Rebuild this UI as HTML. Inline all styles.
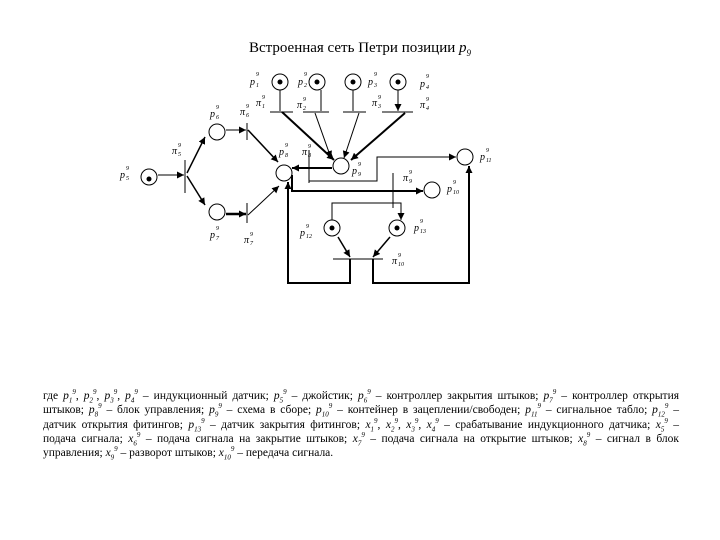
<!DOCTYPE html>
<html><head><meta charset="utf-8"><style>
body{margin:0;background:#fff;width:720px;height:540px;overflow:hidden;position:relative;font-family:"Liberation Serif",serif}
#t{position:absolute;left:0;width:720px;top:40px;text-align:center;font-size:15px}
#d{position:absolute;left:43px;top:389px;width:636px;font-size:11.5px;line-height:14.3px}
#d div{text-align:justify;text-align-last:justify;white-space:nowrap;height:14.3px}
#d div.l{text-align-last:left}
#d sub,#d sup{font-size:7px;line-height:0}
svg{position:absolute;left:0;top:0}
svg text{font-family:"Liberation Serif",serif;font-style:italic}
</style></head><body>
<div id="t">Встроенная сеть Петри позиции <i>p</i><sub style="font-size:9px"><i>9</i></sub></div>
<svg width="720" height="540">
<defs><marker id="a" viewBox="0 0 10 10" refX="10" refY="5" markerWidth="7" markerHeight="7" markerUnits="userSpaceOnUse" orient="auto"><path d="M0,0L10,5L0,10z" fill="#000"/></marker></defs>
<g fill="none" stroke="#000" stroke-width="1">
<circle cx="280" cy="82" r="8"/><circle cx="317" cy="82" r="8"/><circle cx="353" cy="82" r="8"/><circle cx="398" cy="82" r="8"/>
<circle cx="149" cy="177" r="8"/><circle cx="217" cy="132" r="8"/><circle cx="217" cy="212" r="8"/>
<circle cx="284" cy="173" r="8"/><circle cx="341" cy="166" r="8"/><circle cx="432" cy="190" r="8"/><circle cx="465" cy="157" r="8"/>
<circle cx="332" cy="228" r="8"/><circle cx="397" cy="228" r="8"/>
<path d="M270 112H293M303 112H329M343 112H366M382 112H413M185 160V193M247 123V140M247 203V223M309 150V183M393 173V208M333 259H383"/>
<path d="M280 90V111M321 90V111M353 90V111M398 90V111" marker-end="url(#a)"/>
<path d="M282 112L334 160" stroke-width="2" marker-end="url(#a)"/>
<path d="M315 113L331 158" marker-end="url(#a)"/>
<path d="M359 113L344 158" marker-end="url(#a)"/>
<path d="M405 113L351 160" stroke-width="2" marker-end="url(#a)"/>
<path d="M332 168H292" stroke-width="2" marker-end="url(#a)"/>
<path d="M309 181H377V157H456" marker-end="url(#a)"/>
<path d="M292 175V191H423" stroke-width="2" marker-end="url(#a)"/>
<path d="M332 220V203H401V220" />
<path d="M332 213V220M401 213V220" marker-end="url(#a)"/>
<path d="M338 237L350 257" stroke-width="1.5" marker-end="url(#a)"/>
<path d="M390 237L373 257" stroke-width="1.5" marker-end="url(#a)"/>
<path d="M350 259V283H288V182" stroke-width="2" marker-end="url(#a)"/>
<path d="M373 259V283H469V166" stroke-width="2" marker-end="url(#a)"/>
<path d="M158 175H184" marker-end="url(#a)"/>
<path d="M187 173L205 137" stroke-width="1.5" marker-end="url(#a)"/>
<path d="M187 176L205 205" stroke-width="1.5" marker-end="url(#a)"/>
<path d="M226 130H246" marker-end="url(#a)"/>
<path d="M226 214H246" stroke-width="2.5" marker-end="url(#a)"/>
<path d="M248 130L278 162" stroke-width="1.5" marker-end="url(#a)"/>
<path d="M248 215L279 186" marker-end="url(#a)"/>
</g>
<g fill="#000">
<circle cx="280" cy="82" r="2.5"/><circle cx="317" cy="82" r="2.5"/><circle cx="353" cy="82" r="2.5"/><circle cx="398" cy="82" r="2.5"/>
<circle cx="149" cy="179" r="2.5"/><circle cx="332" cy="228" r="2.5"/><circle cx="397" cy="228" r="2.5"/>
</g>
<g style="font-size:10px">
<text x="250" y="85">p</text><text x="256" y="76" style="font-size:6px">9</text><text x="256" y="87" style="font-size:6px">1</text>
<text x="298" y="85">p</text><text x="304" y="76" style="font-size:6px">9</text><text x="304" y="87" style="font-size:6px">2</text>
<text x="368" y="85">p</text><text x="374" y="76" style="font-size:6px">9</text><text x="374" y="87" style="font-size:6px">3</text>
<text x="420" y="87">p</text><text x="426" y="78" style="font-size:6px">9</text><text x="426" y="89" style="font-size:6px">4</text>
<text x="256" y="106">π</text><text x="262" y="99" style="font-size:6px">9</text><text x="262" y="108" style="font-size:6px">1</text>
<text x="297" y="108">π</text><text x="303" y="101" style="font-size:6px">9</text><text x="303" y="110" style="font-size:6px">2</text>
<text x="372" y="106">π</text><text x="378" y="99" style="font-size:6px">9</text><text x="378" y="108" style="font-size:6px">3</text>
<text x="420" y="108">π</text><text x="426" y="101" style="font-size:6px">9</text><text x="426" y="110" style="font-size:6px">4</text>
<text x="120" y="178">p</text><text x="126" y="170" style="font-size:6px">9</text><text x="126" y="180" style="font-size:6px">5</text>
<text x="172" y="154">π</text><text x="178" y="147" style="font-size:6px">9</text><text x="178" y="156" style="font-size:6px">5</text>
<text x="210" y="117">p</text><text x="216" y="109" style="font-size:6px">9</text><text x="216" y="119" style="font-size:6px">6</text>
<text x="240" y="115">π</text><text x="246" y="108" style="font-size:6px">9</text><text x="246" y="117" style="font-size:6px">6</text>
<text x="210" y="238">p</text><text x="216" y="230" style="font-size:6px">9</text><text x="216" y="240" style="font-size:6px">7</text>
<text x="244" y="243">π</text><text x="250" y="236" style="font-size:6px">9</text><text x="250" y="245" style="font-size:6px">7</text>
<text x="279" y="155">p</text><text x="285" y="147" style="font-size:6px">9</text><text x="285" y="157" style="font-size:6px">8</text>
<text x="302" y="155">π</text><text x="308" y="148" style="font-size:6px">9</text><text x="308" y="157" style="font-size:6px">8</text>
<text x="352" y="174">p</text><text x="358" y="166" style="font-size:6px">9</text><text x="358" y="176" style="font-size:6px">9</text>
<text x="403" y="181">π</text><text x="409" y="174" style="font-size:6px">9</text><text x="409" y="183" style="font-size:6px">9</text>
<text x="447" y="192">p</text><text x="453" y="184" style="font-size:6px">9</text><text x="453" y="194" style="font-size:6px">10</text>
<text x="480" y="160">p</text><text x="486" y="152" style="font-size:6px">9</text><text x="486" y="162" style="font-size:6px">11</text>
<text x="300" y="236">p</text><text x="306" y="228" style="font-size:6px">9</text><text x="306" y="238" style="font-size:6px">12</text>
<text x="414" y="231">p</text><text x="420" y="223" style="font-size:6px">9</text><text x="420" y="233" style="font-size:6px">13</text>
<text x="392" y="264">π</text><text x="398" y="257" style="font-size:6px">9</text><text x="398" y="266" style="font-size:6px">10</text>
</g>
</svg>
<div id="d">
<div>где <i>p<sub>1</sub><sup>9</sup></i>, <i>p<sub>2</sub><sup>9</sup></i>, <i>p<sub>3</sub><sup>9</sup></i>, <i>p<sub>4</sub><sup>9</sup></i> – индукционный датчик; <i>p<sub>5</sub><sup>9</sup></i> – джойстик; <i>p<sub>6</sub><sup>9</sup></i> – контроллер закрытия штыков; <i>p<sub>7</sub><sup>9</sup></i> – контроллер открытия</div>
<div>штыков; <i>p<sub>8</sub><sup>9</sup></i> – блок управления; <i>p<sub>9</sub><sup>9</sup></i> – схема в сборе; <i>p<sub>10</sub><sup>9</sup></i> – контейнер в зацеплении/свободен; <i>p<sub>11</sub><sup>9</sup></i> – сигнальное табло; <i>p<sub>12</sub><sup>9</sup></i> –</div>
<div>датчик открытия фитингов; <i>p<sub>13</sub><sup>9</sup></i> – датчик закрытия фитингов; <i>x<sub>1</sub><sup>9</sup></i>, <i>x<sub>2</sub><sup>9</sup></i>, <i>x<sub>3</sub><sup>9</sup></i>, <i>x<sub>4</sub><sup>9</sup></i> – срабатывание индукционного датчика; <i>x<sub>5</sub><sup>9</sup></i> –</div>
<div>подача сигнала; <i>x<sub>6</sub><sup>9</sup></i> – подача сигнала на закрытие штыков; <i>x<sub>7</sub><sup>9</sup></i> – подача сигнала на открытие штыков; <i>x<sub>8</sub><sup>9</sup></i> – сигнал в блок</div>
<div class="l">управления; <i>x<sub>9</sub><sup>9</sup></i> – разворот штыков; <i>x<sub>10</sub><sup>9</sup></i> – передача сигнала.</div>
</div>
</body></html>
